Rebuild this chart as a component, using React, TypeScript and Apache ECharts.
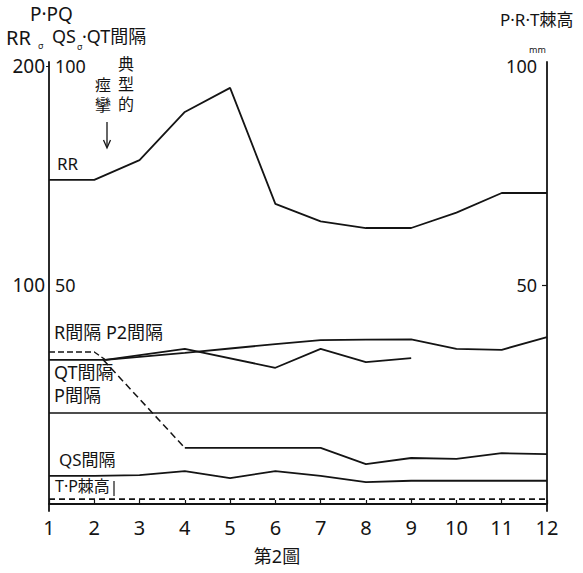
import React, { useEffect, useRef } from "react";
import * as echarts from "echarts";

// x positions: examination number 1..12
const sessions = [1, 2, 3, 4, 5, 6, 7, 8, 9, 10, 11, 12];
const xTickLabels = ["1", "2", "3", "4", "5", "6", "7", "8", "9", "10", "11", "12"];
// RR interval (left outer scale, 0-200 σ)
const rrValues = [148, 148, 157, 179, 190, 137, 129, 126, 126, 133, 142, 142];
// R間隔 (left inner scale 0-100)
const rIntervalDashed = [[1, 34.7], [2, 34.7], [2.25, 32.9]];
const rIntervalSolid = [[2.25, 32.9], [4, 35.4], [6, 31.1], [7, 35.4], [8, 32.4], [9, 33.3]];
// P2間隔
const p2Interval = [[1, 32.9], [2, 32.9], [2.25, 32.9], [4, 34.5], [5, 35.5], [6, 36.5], [7, 37.4], [8, 37.5], [9, 37.6], [10, 35.4], [11, 35.2], [12, 38.1]];
// QT間隔
const qtDashed = [[2.2, 32.9], [4, 12.8]];
const qtSolid = [[4, 12.8], [5, 12.8], [6, 12.8], [7, 12.8], [8, 9.1], [9, 10.5], [10, 10.3], [11, 11.6], [12, 11.4]];
// P間隔
const pInterval = [20.8, 20.8, 20.8, 20.8, 20.8, 20.8, 20.8, 20.8, 20.8, 20.8, 20.8, 20.8];
// QS間隔
const qsValues = [6.4, 6.4, 6.6, 7.5, 5.9, 7.5, 6.4, 5.0, 5.3, 5.3, 5.3, 5.3];
// T·P棘高 (right scale mm)
const tpHeight = [1.1, 1.1, 1.1, 1.1, 1.1, 1.1, 1.1, 1.1, 1.1, 1.1, 1.1, 1.1];

const leftInnerTicks = [50, 100];
const leftOuterTicks = [100, 200];
const rightTicks = [50, 100];

const FONT = "'Noto Sans', 'Noto Sans CJK JP', sans-serif";
const INK = "#141414";

const pair = (vals: number[]) => vals.map((v, i) => [sessions[i], v]);

export default function App() {
  const ref = useRef<HTMLDivElement>(null);
  useEffect(() => {
    if (!ref.current) return;
    const chart = echarts.init(ref.current, undefined, { renderer: "svg" });
    const lineStyle = (type: any = "solid", width = 1.8) => ({ color: INK, width, type });
    const base = { type: "line", symbol: "none", silent: true };
    const txt = (text: string, x: number, y: number, fontSize: number, extra: any = {}) => ({
      type: "text",
      x,
      y,
      silent: true,
      style: {
        text,
        fill: INK,
        fontSize,
        fontFamily: FONT,
        textAlign: "left",
        textVerticalAlign: "top",
        ...extra,
      },
    });
    chart.setOption({
      animation: false,
      backgroundColor: "#ffffff",
      grid: { left: 49, right: 36, top: 62, bottom: 62, containLabel: false },
      xAxis: {
        type: "value",
        min: 1,
        max: 12,
        interval: 1,
        axisLine: { show: true, lineStyle: { color: INK, width: 1.8 } },
        axisTick: { show: true, inside: true, length: 4, lineStyle: { color: INK, width: 1.2 } },
        axisLabel: {
          color: INK,
          fontSize: 20,
          fontFamily: FONT,
          margin: 6,
          formatter: (v: number) => xTickLabels[sessions.indexOf(v)] ?? "",
        },
        splitLine: { show: false },
      },
      yAxis: [
        {
          type: "value",
          position: "left",
          min: -1.6,
          max: 100.9,
          axisLine: { show: true, lineStyle: { color: INK, width: 1.8 } },
          axisTick: { show: false },
          axisLabel: {
            inside: true,
            margin: 6,
            color: INK,
            fontSize: 18,
            fontFamily: FONT,
            customValues: leftInnerTicks,
          },
          splitLine: { show: false },
        },
        {
          type: "value",
          position: "left",
          min: -3.2,
          max: 201.8,
          axisLine: { show: false },
          axisTick: { show: true, length: 3, lineStyle: { color: INK }, customValues: [200] },
          axisLabel: {
            margin: 4,
            color: INK,
            fontSize: 19,
            fontFamily: FONT,
            customValues: leftOuterTicks,
          },
          splitLine: { show: false },
        },
        {
          type: "value",
          position: "right",
          min: -1.6,
          max: 100.9,
          axisLine: { show: true, lineStyle: { color: INK, width: 1.8 } },
          axisTick: { show: true, inside: true, length: 5, lineStyle: { color: INK, width: 1.2 }, customValues: [50] },
          axisLabel: {
            inside: true,
            margin: 10,
            color: INK,
            fontSize: 18,
            fontFamily: FONT,
            customValues: rightTicks,
          },
          splitLine: { show: false },
        },
      ],
      series: [
        { ...base, name: "RR", yAxisIndex: 1, data: pair(rrValues), lineStyle: lineStyle() },
        { ...base, name: "R間隔 dashed", yAxisIndex: 0, data: rIntervalDashed, lineStyle: lineStyle([6, 3], 1.4) },
        { ...base, name: "R間隔", yAxisIndex: 0, data: rIntervalSolid, lineStyle: lineStyle() },
        { ...base, name: "P2間隔", yAxisIndex: 0, data: p2Interval, lineStyle: lineStyle() },
        { ...base, name: "QT間隔 dashed", yAxisIndex: 0, data: qtDashed, lineStyle: lineStyle([7, 4], 1.5) },
        { ...base, name: "QT間隔", yAxisIndex: 0, data: qtSolid, lineStyle: lineStyle() },
        { ...base, name: "P間隔", yAxisIndex: 0, data: pair(pInterval), lineStyle: lineStyle("solid", 1.5) },
        { ...base, name: "QS間隔", yAxisIndex: 0, data: pair(qsValues), lineStyle: lineStyle() },
        { ...base, name: "T·P棘高", yAxisIndex: 2, data: pair(tpHeight), lineStyle: lineStyle([6, 4], 1.6) },
      ],
      graphic: [
        txt("P·PQ", 30, 4, 19),
        txt("RR", 6, 27, 20),
        txt("σ", 38, 41, 9),
        txt("QS", 52, 27, 18),
        txt("σ", 77, 42, 9),
        txt("·QT間隔", 82, 27, 18),
        txt("P·R·T棘高", 500, 11, 17),
        txt("mm", 529, 45, 9),
        txt("典", 126, 56, 16, { textAlign: "center" }),
        txt("型", 126, 76, 16, { textAlign: "center" }),
        txt("的", 126, 96, 16, { textAlign: "center" }),
        txt("痙", 103, 77, 16, { textAlign: "center" }),
        txt("攣", 103, 97, 16, { textAlign: "center" }),
        {
          type: "line",
          silent: true,
          shape: { x1: 107, y1: 122, x2: 107, y2: 147 },
          style: { stroke: INK, lineWidth: 1.3 },
        },
        {
          type: "polyline",
          silent: true,
          shape: { points: [[103.5, 140], [107, 148], [110.5, 140]] },
          style: { stroke: INK, lineWidth: 1.3, fill: "none" },
        },
        txt("RR", 57, 155, 17),
        txt("R間隔 P2間隔", 54, 323, 18),
        txt("QT間隔", 54, 363, 18),
        txt("P間隔", 54, 386, 18),
        txt("QS間隔", 59, 451, 17),
        txt("T·P棘高", 55, 478, 16),
        {
          type: "line",
          silent: true,
          shape: { x1: 114, y1: 481, x2: 114, y2: 496 },
          style: { stroke: INK, lineWidth: 1.2 },
        },
        txt("第2圖", 277, 547, 18, { textAlign: "center" }),
      ],
    });
    return () => chart.dispose();
  }, []);
  return (
    <div
      ref={ref}
      style={{ position: "fixed", left: 0, top: 0, width: 583, height: 573, background: "#fff" }}
    />
  );
}
